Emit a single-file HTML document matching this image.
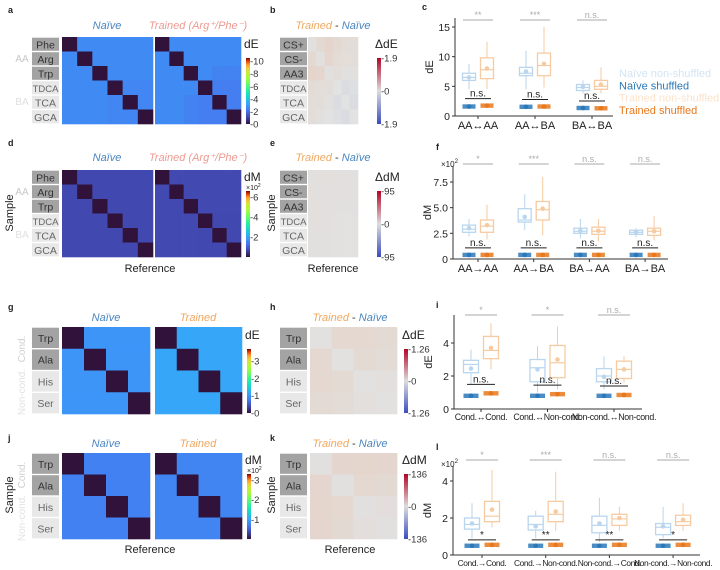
<!DOCTYPE html>
<html><head><meta charset="utf-8"><style>
html,body{margin:0;padding:0;background:#fff}
svg{display:block;font-family:"Liberation Sans",sans-serif}
</style></head><body>
<svg id="fig" width="720" height="570" viewBox="0 0 720 570" xmlns="http://www.w3.org/2000/svg">
<defs>
<linearGradient id="turbo" x1="0" y1="1" x2="0" y2="0">
<stop offset="0" stop-color="#30123b"/><stop offset="0.1" stop-color="#4145ab"/><stop offset="0.2" stop-color="#4675ed"/><stop offset="0.3" stop-color="#39a2fc"/><stop offset="0.4" stop-color="#1bcfd4"/><stop offset="0.5" stop-color="#24eca6"/><stop offset="0.6" stop-color="#61fc6c"/><stop offset="0.7" stop-color="#a4fc3b"/><stop offset="0.8" stop-color="#d1e834"/><stop offset="0.85" stop-color="#f3c63a"/><stop offset="0.9" stop-color="#fe9b2d"/><stop offset="0.95" stop-color="#e4460a"/><stop offset="1" stop-color="#7a0403"/>
</linearGradient>
<linearGradient id="cw" x1="0" y1="1" x2="0" y2="0">
<stop offset="0" stop-color="#3b4cc0"/><stop offset="0.5" stop-color="#dddddd"/><stop offset="1" stop-color="#b40426"/>
</linearGradient>
</defs>
<g id="root"></g>
</svg>
<script>
// ---------- heatmap data ----------
const aLabels=["Phe","Arg","Trp","TDCA","TCA","GCA"];
const bLabels=["CS+","CS-","AA3","TDCA","TCA","GCA"];
const gLabels=["Trp","Ala","His","Ser"];
const aNaive=[[0,2.6,2.6,2.6,2.6,2.6],[2.6,0,2.6,2.6,2.6,2.6],[2.6,2.6,0,2.6,2.6,2.6],[2.6,2.6,2.6,0,2.5,2.5],[2.6,2.6,2.6,2.5,0,2.5],[2.6,2.6,2.6,2.5,2.5,0]];
const aTrained=[[0,2.6,2.6,2.6,2.6,2.6],[2.6,0,2.6,2.6,2.6,2.6],[2.6,2.6,0,2.6,2.4,2.4],[2.6,2.6,2.6,0,2.3,2.3],[2.6,2.6,2.4,2.3,0,2.3],[2.6,2.6,2.4,2.3,2.3,0]];
const bDiff=[[0.05,0.2,0.3,0.2,0.15,0.1],[0.2,0.05,0.25,0.15,0.1,0.1],[0.3,0.25,0.05,0.1,0.05,0.05],[0.15,0.1,0.1,0,-0.1,-0.05],[0.1,0.1,0.05,-0.1,0,-0.1],[0.1,0.05,0,-0.05,-0.1,0]];
const dNaive=[[0,0.7,0.7,0.7,0.7,0.7],[0.7,0,0.7,0.7,0.7,0.7],[0.7,0.7,0,0.7,0.7,0.7],[0.7,0.7,0.7,0,0.7,0.7],[0.7,0.7,0.7,0.7,0,0.7],[0.7,0.7,0.7,0.7,0.7,0]];
const dTrained=[[0,0.72,0.72,0.72,0.72,0.72],[0.72,0,0.72,0.72,0.72,0.72],[0.72,0.72,0,0.72,0.72,0.72],[0.72,0.72,0.72,0,0.7,0.7],[0.72,0.72,0.72,0.7,0,0.7],[0.72,0.72,0.72,0.7,0.7,0]];
const eDiff=[[2,3,3,3,2,2],[3,2,3,3,2,2],[3,3,2,2,2,2],[3,3,2,1,1,1],[2,2,2,1,1,1],[2,2,2,1,1,1]];
const gNaive=[[0,1.0,1.0,1.0],[1.0,0,1.0,1.0],[1.0,1.0,0,1.0],[1.0,1.0,1.0,0]];
const gTrained=[[0,1.15,1.15,1.15],[1.15,0,1.15,1.15],[1.15,1.15,0,1.15],[1.15,1.15,1.15,0]];
const hDiff=[[0.02,0.15,0.15,0.12],[0.15,0.02,0.12,0.1],[0.15,0.12,0.02,0.05],[0.12,0.1,0.05,0.02]];
const jNaive=[[0,0.75,0.75,0.75],[0.75,0,0.75,0.75],[0.75,0.75,0,0.75],[0.75,0.75,0.75,0]];
const jTrained=[[0,0.78,0.78,0.78],[0.78,0,0.78,0.78],[0.78,0.78,0,0.78],[0.78,0.78,0.78,0]];
const kDiff=[[3,18,20,18],[18,3,16,14],[20,16,3,6],[18,14,6,3]];

// ---------- box-plot data: [lo,q1,med,q3,hi,mean] ----------
const cCats=["AA\u2194AA","AA\u2194BA","BA\u2194BA"];
const cNaive=[[4.5,6,6.5,7.2,8.8,6.5],[4.5,6.8,7.2,8.2,11,7.5],[3.8,4.3,4.8,5.3,6,4.9]];
const cTrained=[[4.5,6.3,7.8,9.8,12.5,8],[4.8,6.8,8.5,10.6,15,8.8],[3.8,4.5,5,6,8.2,5.3]];
const cNaiveShuf=[1.6,1.55,1.35];
const cTrainedShuf=[1.75,1.6,1.3];
const cSigTop=["**","***","n.s."];
const cSigLow=["n.s.","n.s.","n.s."];
const cTicks=[0,5,10,15];

const fCats=["AA\u2192AA","AA\u2192BA","BA\u2192AA","BA\u2192BA"];
const fNaive=[[2.2,2.6,2.9,3.3,3.9,3.0],[2.8,3.6,3.8,4.9,6.3,4.1],[2.0,2.5,2.7,3.0,3.9,2.75],[2.1,2.4,2.6,2.8,3.0,2.6]];
const fTrained=[[1.9,2.6,3.2,3.8,5.3,3.3],[2.3,3.8,4.8,5.6,8.0,4.9],[1.7,2.4,2.7,3.1,3.9,2.75],[1.8,2.3,2.7,3.0,4.2,2.7]];
const fNaiveShuf=[0.4,0.4,0.4,0.4];
const fTrainedShuf=[0.4,0.4,0.4,0.4];
const fSigTop=["*","***","n.s.","n.s."];
const fSigLow=["n.s.","n.s.","n.s.","n.s."];
const fTicks=[0,2.5,5.0,7.5];

const iCats=["Cond.\u2194Cond.","Cond.\u2194Non-cond.","Non-cond.\u2194Non-cond."];
const iNaive=[[1.5,2.2,2.7,2.95,3.6,2.45],[1.0,1.65,2.5,3.0,3.8,2.4],[1.2,1.65,2.0,2.45,3.2,1.95]];
const iTrained=[[2.4,3.05,3.55,4.4,5.2,3.7],[1.2,1.9,2.8,3.85,5.0,3.0],[1.6,1.85,2.4,2.9,3.2,2.4]];
const iNaiveShuf=[0.8,0.8,0.8];
const iTrainedShuf=[0.95,0.9,0.85];
const iSigTop=["*","*","n.s."];
const iSigLow=["n.s.","n.s.","n.s."];
const iTicks=[0,2,4];

const lCats=["Cond.\u2192Cond.","Cond.\u2192Non-cond.","Non-cond.\u2192Cond.","Non-cond.\u2192Non-cond."];
const lNaive=[[0.9,1.4,1.65,2.0,2.8,1.7],[0.9,1.35,1.65,2.1,2.4,1.55],[0.7,1.2,1.6,2.1,3.1,1.7],[0.9,1.1,1.5,1.7,2.6,1.55]];
const lTrained=[[1.5,1.8,2.1,2.9,4.6,2.45],[1.3,1.8,2.2,2.9,4.5,2.35],[1.3,1.6,1.95,2.2,2.6,2.0],[1.3,1.6,1.8,2.15,2.8,1.9]];
const lNaiveShuf=[0.5,0.5,0.5,0.5];
const lTrainedShuf=[0.55,0.55,0.55,0.55];
const lSigTop=["*","***","n.s.","n.s."];
const lSigLow=["*","**","**","*"];
const lTicks=[0,2,4];

// ---------- helpers ----------
const NS="http://www.w3.org/2000/svg";
const root=document.getElementById("root");
function mk(tag,attrs,parent){const e=document.createElementNS(NS,tag);for(const k in attrs)e.setAttribute(k,attrs[k]);(parent||root).appendChild(e);return e;}
function txt(s,x,y,o,parent){o=o||{};const e=mk("text",{x:x,y:y,"font-size":o.fs||10,fill:o.fill||"#222","text-anchor":o.anchor||"start"},parent);if(o.italic)e.setAttribute("font-style","italic");if(o.bold)e.setAttribute("font-weight","bold");if(o.ls)e.setAttribute("letter-spacing",o.ls);if(o.rot)e.setAttribute("transform","rotate(-90 "+x+" "+y+")");e.textContent=s;return e;}
const turboStops=[[0,"#30123b"],[0.1,"#4145ab"],[0.2,"#4675ed"],[0.3,"#39a2fc"],[0.4,"#1bcfd4"],[0.5,"#24eca6"],[0.6,"#61fc6c"],[0.7,"#a4fc3b"],[0.8,"#d1e834"],[0.85,"#f3c63a"],[0.9,"#fe9b2d"],[0.95,"#e4460a"],[1,"#7a0403"]];
function hex(h){return [1,3,5].map(i=>parseInt(h.substr(i,2),16));}
function lerpC(a,b,t){const A=hex(a),B=hex(b);return "rgb("+A.map((v,i)=>Math.round(v+(B[i]-v)*t)).join(",")+")";}
function turbo(t){t=Math.max(0,Math.min(1,t));for(let i=1;i<turboStops.length;i++){if(t<=turboStops[i][0]){const a=turboStops[i-1],b=turboStops[i];return lerpC(a[1],b[1],(t-a[0])/(b[0]-a[0]));}}return "#7a0403";}
function cw(t){t=Math.max(-1,Math.min(1,t));return t<0?lerpC("#e2e2e2","#5a78d0",-t):lerpC("#e2e2e2","#f08a50",t);}

function heatmap(name,m,x0,y0,w,h,colorFn){
  const g=mk("g",{});
  
  
  const n=m.length,cw_=w/n,ch=h/n;
  m.forEach((row,i)=>row.forEach((v,j)=>{
    const r=mk("rect",{x:x0+j*cw_,y:y0+i*ch,width:cw_+0.3,height:ch+0.3,fill:colorFn(v)},g);
    
    
  }));
}
function rowLabels(name,labels,nDark,x0,y0,h){
  const g=mk("g",{});
  
  
  const ch=h/labels.length;
  labels.forEach((s,i)=>{
    const dark=i<nDark;
    mk("rect",{x:x0,y:y0+i*ch+0.7,width:27,height:ch-1.4,fill:dark?"#a3a3a3":"#e8e8e8"},g);
    const t=txt(s,x0+13.5,y0+i*ch+ch/2+4,{fs:s.length>3?9.5:10.5,anchor:"middle",fill:dark?"#333":"#666"},g);
    
    
  });
}
function colorbar(name,x,y0,y1,grad,title,ticks,tickLabels,vmin,vmax,mult){
  const g=mk("g",{});
  
  
  mk("rect",{x:x,y:y0,width:4,height:y1-y0,fill:"url(#"+grad+")"},g);
  txt(title,x-2,y0-10,{fs:12},g);
  if(mult){const t=txt("\u00d710",x,y0-1,{fs:7},g);const s=mk("tspan",{dy:-3,"font-size":5},t);s.textContent="2";}
  ticks.forEach((v,i)=>{const yy=y1-(v-vmin)/(vmax-vmin)*(y1-y0);txt("-"+tickLabels[i],x+4,yy+3.5,{fs:9.5,fill:"#333"},g);});
}
function titlePair(x,y,a,colA,b,colB){
  const t=txt("",x,y,{fs:11,anchor:"middle",italic:true});
  const s1=mk("tspan",{fill:colA},t);s1.textContent=a;
  if(b!==undefined){const s2=mk("tspan",{fill:"#333","font-style":"normal"},t);s2.textContent=" - ";const s3=mk("tspan",{fill:colB},t);s3.textContent=b;}
  return t;
}
const BLUE="#4a86c0",ORNG="#f0a860";

// ---------- heatmap panels ----------
txt("a",8,13,{fs:9,bold:true});
txt("b",270,13,{fs:9,bold:true});
txt("c",422,10,{fs:9,bold:true});
titlePair(107,29,"Na\u00efve",BLUE);
{const t=titlePair(198,29,"Trained (Arg",ORNG);t.firstChild.setAttribute("fill","#ee9a90");const s=mk("tspan",{fill:"#ee9a90"},t);s.textContent="\u207a/Phe\u207b)";}
rowLabels("row-labels-a",aLabels,3,32,37,87);
txt("AA",22,62,{fs:10,fill:"#c8c8c8",anchor:"middle"});
txt("BA",22,105,{fs:10,fill:"#e0e0e0",anchor:"middle"});
heatmap("heatmap-a-naive",aNaive,62,37,91,87,v=>turbo(v/10.5));
heatmap("heatmap-a-trained",aTrained,155,37,86,87,v=>turbo(v/10.5));
colorbar("colorbar-a",246,58,124,"turbo","dE",[0,2,4,6,8,10],["0","2","4","6","8","10"],0,10.5);
titlePair(333,29,"Trained",ORNG,"Na\u00efve",BLUE);
rowLabels("row-labels-b",bLabels,3,280,37,87);
heatmap("heatmap-b-diff",bDiff,308,37,50,87,v=>cw(v/1.9));
colorbar("colorbar-b",377,58,124,"cw","\u0394dE",[-1.9,0,1.9],["1.9","0","1.9"],-1.9,1.9);

txt("d",8,146,{fs:9,bold:true});
txt("e",270,146,{fs:9,bold:true});
titlePair(107,161,"Na\u00efve",BLUE);
{const t=titlePair(198,161,"Trained (Arg",ORNG);t.firstChild.setAttribute("fill","#ee9a90");const s=mk("tspan",{fill:"#ee9a90"},t);s.textContent="\u207a/Phe\u207b)";}
rowLabels("row-labels-d",aLabels,3,32,170,87);
txt("AA",22,195,{fs:10,fill:"#c8c8c8",anchor:"middle"});
txt("BA",22,238,{fs:10,fill:"#e0e0e0",anchor:"middle"});
txt("Sample",13,213,{fs:11,anchor:"middle",rot:true});
heatmap("heatmap-d-naive",dNaive,62,170,91,87,v=>turbo(v/6.5));
heatmap("heatmap-d-trained",dTrained,155,170,86,87,v=>turbo(v/6.5));
colorbar("colorbar-d",246,191,257,"turbo","dM",[2,4,6],["2","4","6"],0,6.6,true);
txt("Reference",150,272,{fs:11,anchor:"middle"});
titlePair(333,161,"Trained",ORNG,"Na\u00efve",BLUE);
txt("Sample",275,213,{fs:11,anchor:"middle",rot:true});
rowLabels("row-labels-e",bLabels,3,280,170,87);
heatmap("heatmap-e-diff",eDiff,308,170,50,87,v=>cw(v/95));
colorbar("colorbar-e",377,191,257,"cw","\u0394dM",[-95,0,95],["95","0","95"],-95,95);
txt("Reference",333,272,{fs:11,anchor:"middle"});

txt("g",8,310,{fs:9,bold:true});
txt("h",270,310,{fs:9,bold:true});
titlePair(106,321,"Na\u00efve",BLUE);
titlePair(198,321,"Trained",ORNG);
rowLabels("row-labels-g",gLabels,2,32,327,87);
txt("Cond.",25,349,{fs:10,fill:"#d0d0d0",anchor:"middle",rot:true});
txt("Non-cond.",25,392,{fs:10,fill:"#e2e2e2",anchor:"middle",rot:true});
heatmap("heatmap-g-naive",gNaive,62,327,88,87,v=>turbo(v/3.7));
heatmap("heatmap-g-trained",gTrained,155,327,87,87,v=>turbo(v/3.7));
colorbar("colorbar-g",247,349,413,"turbo","dE",[0,1,2,3],["0","1","2","3"],0,3.7);
titlePair(350,321,"Trained",ORNG,"Na\u00efve",BLUE);
rowLabels("row-labels-h",gLabels,2,280,327,87);
heatmap("heatmap-h-diff",hDiff,310,327,87,87,v=>cw(v/1.26));
colorbar("colorbar-h",404,349,413,"cw","\u0394dE",[-1.26,0,1.26],["1.26","0","1.26"],-1.26,1.26);

txt("j",8,441,{fs:9,bold:true});
txt("k",270,441,{fs:9,bold:true});
titlePair(106,447,"Na\u00efve",BLUE);
titlePair(198,447,"Trained",ORNG);
rowLabels("row-labels-j",gLabels,2,32,453,86);
txt("Cond.",25,475,{fs:10,fill:"#d0d0d0",anchor:"middle",rot:true});
txt("Non-cond.",25,518,{fs:10,fill:"#e2e2e2",anchor:"middle",rot:true});
txt("Sample",13,495,{fs:11,anchor:"middle",rot:true});
heatmap("heatmap-j-naive",jNaive,62,453,88,86,v=>turbo(v/3.3));
heatmap("heatmap-j-trained",jTrained,155,453,87,86,v=>turbo(v/3.3));
colorbar("colorbar-j",247,474,539,"turbo","dM",[1,2,3],["1","2","3"],0,3.3,true);
txt("Reference",150,553,{fs:11,anchor:"middle"});
titlePair(350,447,"Trained",ORNG,"Na\u00efve",BLUE);
txt("Sample",275,495,{fs:11,anchor:"middle",rot:true});
rowLabels("row-labels-k",gLabels,2,280,453,86);
heatmap("heatmap-k-diff",kDiff,310,453,87,86,v=>cw(v/136));
colorbar("colorbar-k",404,474,539,"cw","\u0394dM",[-136,0,136],["136","0","136"],-136,136);
txt("Reference",350,553,{fs:11,anchor:"middle"});

// ---------- box plot panels ----------
const LB="#b9d6ee",DB="#2a78b8",LO="#f6cba2",DO="#e8781c";
function boxPanel(p){
  const g=mk("g",{});
  
  
  const y=v=>p.y0-(v-p.vmin)*(p.y0-p.y1)/(p.vmax-p.vmin);
  mk("line",{x1:p.ax,y1:p.top,x2:p.ax,y2:p.y0,stroke:"#333","stroke-width":1},g);
  mk("line",{x1:p.ax,y1:p.y0,x2:p.xend,y2:p.y0,stroke:"#333","stroke-width":1},g);
  p.ticks.forEach(v=>{mk("line",{x1:p.ax-3,y1:y(v),x2:p.ax,y2:y(v),stroke:"#333"},g);txt(p.tickFmt(v),p.ax-5,y(v)+4,{fs:10.5,anchor:"end"},g);});
  if(p.mult){const t=txt("\u00d710",p.ax-12,p.top+1,{fs:8},g);const s=mk("tspan",{dy:-4,"font-size":6},t);s.textContent="2";}
  txt(p.ylabel,p.ax-22,(p.top+p.y0)/2,{fs:11,anchor:"middle",rot:true},g);
  const bw=p.bw,off=p.off;
  p.cats.forEach((c,i)=>{
    const cx=p.cx(i);
    mk("line",{x1:cx,y1:p.y0,x2:cx,y2:p.y0+3,stroke:"#333"},g);
    const lab=txt(c,cx,p.y0+p.labDy,{fs:p.labFs,anchor:"middle",ls:p.ls},g);
    
    
    [[p.naive[i],cx-off,LB],[p.trained[i],cx+off,LO]].forEach(([s,x,col])=>{
      const b=mk("g",{},g);
      
      
      mk("line",{x1:x,y1:y(s[0]),x2:x,y2:y(s[1]),stroke:col,"stroke-width":1},b);
      mk("line",{x1:x,y1:y(s[3]),x2:x,y2:y(s[4]),stroke:col,"stroke-width":1},b);
      mk("rect",{x:x-bw/2,y:y(s[3]),width:bw,height:y(s[1])-y(s[3]),fill:"none",stroke:col,"stroke-width":1.3},b);
      mk("line",{x1:x-bw/2,y1:y(s[2]),x2:x+bw/2,y2:y(s[2]),stroke:col,"stroke-width":1.2},b);
      mk("circle",{cx:x,cy:y(s[5]),r:2.3,fill:col},b);
    });
    [[p.nShuf[i],cx-off,DB],[p.tShuf[i],cx+off,DO]].forEach(([v,x,col])=>{
      const b=mk("g",{},g);
      
      
      mk("rect",{x:x-bw/2,y:y(v)-2.2,width:bw,height:4.4,fill:col,opacity:0.85},b);
      mk("circle",{cx:x,cy:y(v),r:2.3,fill:col},b);
    });
    mk("line",{x1:cx-off-6,y1:p.sigY,x2:cx+off+6,y2:p.sigY,stroke:"#aaa","stroke-width":1},g);
    txt(p.sigTop[i],cx,p.sigY-2,{fs:9,anchor:"middle",fill:"#aaa"},g);
    const ly=Math.min(y(p.nShuf[i]),y(p.tShuf[i]))-p.lowGap;
    mk("line",{x1:cx-off-4,y1:ly,x2:cx+off+4,y2:ly,stroke:"#222","stroke-width":1},g);
    txt(p.sigLow[i],cx,ly-2,{fs:10,anchor:"middle",fill:"#222"},g);
  });
}
boxPanel({name:"boxplot-c",ax:455,top:18,y0:116,y1:27,vmin:0,vmax:15,xend:613,ticks:cTicks,tickFmt:v=>String(v),ylabel:"dE",
  cats:cCats,cx:i=>478+i*57,bw:13,off:9,naive:cNaive,trained:cTrained,nShuf:cNaiveShuf,tShuf:cTrainedShuf,sigTop:cSigTop,sigLow:cSigLow,sigY:20,lowGap:7,labDy:13,labFs:11});
boxPanel({name:"boxplot-f",ax:453,top:166,y0:259,y1:182,vmin:0,vmax:7.5,xend:668,ticks:fTicks,tickFmt:v=>v===0?"0":v.toFixed(1),ylabel:"dM",mult:true,
  cats:fCats,cx:i=>478+i*55.7,bw:13,off:9,naive:fNaive,trained:fTrained,nShuf:fNaiveShuf,tShuf:fTrainedShuf,sigTop:fSigTop,sigLow:fSigLow,sigY:164,lowGap:7,labDy:13,labFs:11});
boxPanel({name:"boxplot-i",ax:454,top:315,y0:409,y1:343,vmin:0,vmax:4,xend:642,ticks:iTicks,tickFmt:v=>String(v),ylabel:"dE",
  cats:iCats,cx:i=>481+i*66.5,bw:15,off:10,naive:iNaive,trained:iTrained,nShuf:iNaiveShuf,tShuf:iTrainedShuf,sigTop:iSigTop,sigLow:iSigLow,sigY:315,lowGap:9,labDy:11,labFs:8.8,ls:-0.3});
boxPanel({name:"boxplot-l",ax:453,top:466,y0:555,y1:481,vmin:0,vmax:4,xend:700,ticks:lTicks,tickFmt:v=>String(v),ylabel:"dM",mult:true,
  cats:lCats,cx:i=>482+i*63.7,bw:15,off:10,naive:lNaive,trained:lTrained,nShuf:lNaiveShuf,tShuf:lTrainedShuf,sigTop:lSigTop,sigLow:lSigLow,sigY:460,lowGap:5,labDy:11,labFs:8.4,ls:-0.4});
txt("f",436,150,{fs:9,bold:true});
txt("i",436,308,{fs:9,bold:true});
txt("l",436,450,{fs:9,bold:true});

// legend
const legNames=["Na\u00efve non-shuffled","Na\u00efve shuffled","Trained non-shuffled","Trained shuffled"];
const legCols=["#d3e5f3",DB,"#fbe3cc",DO];
legNames.forEach((s,i)=>{
  const t=txt(s,619,77+i*12.3,{fs:11,fill:legCols[i]});
  
  
});
</script>
</body></html>
